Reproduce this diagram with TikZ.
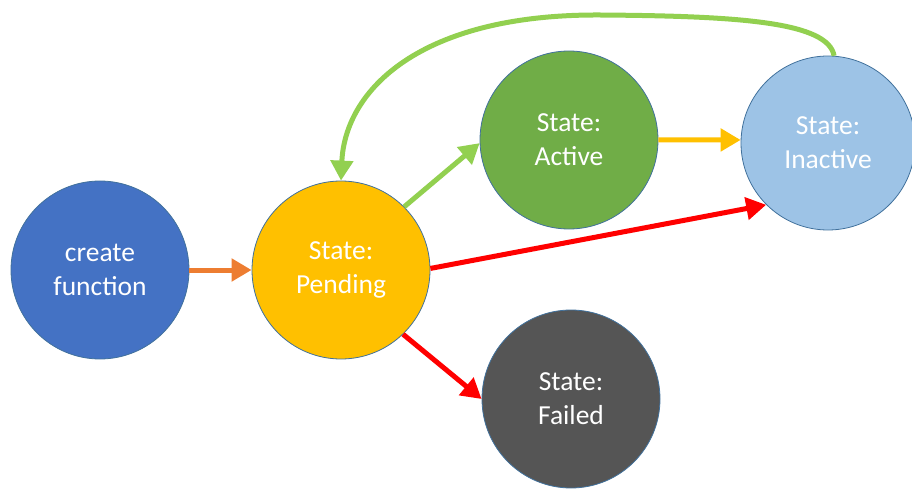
\documentclass[tikz,border=0pt]{standalone}
\usepackage{fontspec}
\setmainfont{Carlito}
\usetikzlibrary{arrows.meta}
\definecolor{cblue}{HTML}{4472C4}
\definecolor{cyel}{HTML}{FFC000}
\definecolor{cgreen}{HTML}{70AD47}
\definecolor{clblue}{HTML}{9DC3E6}
\definecolor{cgray}{HTML}{555555}
\definecolor{cedge}{HTML}{41719C}
\definecolor{aorange}{HTML}{ED7D31}
\definecolor{agreen}{HTML}{92D050}
\definecolor{ared}{HTML}{FF0000}
\tikzset{
  st/.style={circle, draw=cedge, line width=0.8pt, minimum size=178pt, inner sep=0pt,
    text=white, align=center, font=\fontsize{27.5}{34}\selectfont},
  arr/.style={line width=5pt, -{Triangle[length=20pt,width=22pt]}},
}
\begin{document}
\begin{tikzpicture}[x=1pt,y=-1pt]
\useasboundingbox (0,0) rectangle (912,489);
\node[st, fill=cblue] (cf) at (100,270) {create\\function};
\node[st, fill=cyel] (pend) at (341,270) {State:\\Pending};
\node[st, fill=cgreen] (act) at (569,140) {State:\\Active};
\node[st, fill=clblue, minimum size=174pt] (inact) at (828,143) {State:\\Inactive};
\node[st, fill=cgray] (fail) at (571,399) {State:\\Failed};
\coordinate (mid) at (600,15);
\draw[arr, aorange] (cf) -- (pend);
\draw[arr, agreen] (pend.45) -- (act.182);
\draw[arr, cyel] (act.east) -- (inact.178);
\draw[arr, ared] (pend.1) -- (inact.225);
\draw[arr, ared] (pend.-46) -- (fail.180);
\draw[arr, agreen] (inact.86) .. controls (828,22) and (740,16) .. (mid)
  .. controls (420,14) and (345,90) .. (pend.90);
\end{tikzpicture}
\end{document}
